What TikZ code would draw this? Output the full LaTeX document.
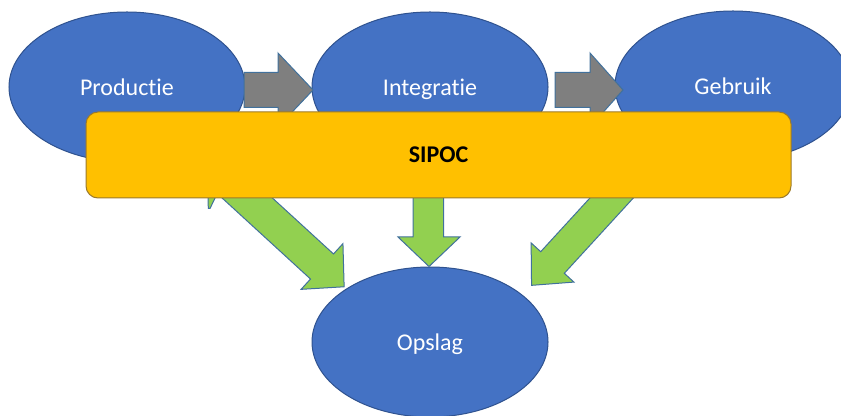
\documentclass[tikz,border=0pt]{standalone}
\usepackage{fontspec}
\setmainfont{Carlito}[Ligatures=NoCommon]
\usetikzlibrary{shapes.geometric}
\definecolor{blu}{HTML}{4472C4}
\definecolor{bluline}{HTML}{2F528F}
\definecolor{arrline}{HTML}{41719C}
\definecolor{gry}{HTML}{7F7F7F}
\definecolor{grn}{HTML}{92D050}
\definecolor{gold}{HTML}{FFC000}
\definecolor{goldline}{HTML}{9C7A2A}
\tikzset{
  blob/.style={ellipse, fill=blu, draw=bluline, line width=0.75pt, minimum width=177pt, minimum height=112.5pt, inner sep=0pt, text=white, text height=14.5pt, text depth=2pt, font=\fontsize{18}{21}\selectfont},
  grayarrow/.style={fill=gry, draw=arrline, line width=0.75pt, line join=miter},
  greenarrow/.style={fill=grn, draw=arrline, line width=0.75pt, line join=miter},
  sipocbox/.style={fill=gold, draw=goldline, line width=0.75pt, rounded corners=9pt, minimum width=528.75pt, minimum height=64.5pt, inner sep=0pt, font=\fontsize{18}{21}\selectfont\bfseries}
}
\begin{document}
\begin{tikzpicture}[x=0.75pt, y=-0.75pt]
\useasboundingbox (0,0) rectangle (841,416);
\clip (0,0) rectangle (841,416);
% ellipses
\node[blob] (prod) at (127,87) {Productie};
\node[blob] (integ) at (430,87) {Integratie};
\node[blob] (gebr) at (733,86) {Gebruik};
\node[blob] (opslag) at (430,342) {Opslag};
% gray block arrows
\draw[grayarrow] (244,72.5) -- (278,72.5) -- (278,53) -- (313,90) -- (278,127) -- (278,107.5) -- (244,107.5) -- cycle;
\draw[grayarrow] (555,72.5) -- (590,72.5) -- (590,53) -- (623,90) -- (590,127) -- (590,107.5) -- (555,107.5) -- cycle;
% green block arrows
\draw[greenarrow] (208,195) -- (216.5,195) -- (210,208.5) -- (208.3,208.5) -- cycle;
\begin{scope}[shift={(322,266.5)}, rotate=-42.5]
\draw[greenarrow] (-140,-17) -- (0,-17) -- (0,-31) -- (30,0) -- (0,31) -- (0,17) -- (-140,17) -- cycle;
\end{scope}
\begin{scope}[shift={(552.5,262.5)}, rotate=-132.5]
\draw[greenarrow] (-130,-16) -- (0,-16) -- (0,-29) -- (31,0) -- (0,29) -- (0,16) -- (-130,16) -- cycle;
\end{scope}
\draw[greenarrow] (413,185) -- (413,237) -- (398,237) -- (429,266.5) -- (460,237) -- (443.5,237) -- (443.5,185) -- cycle;
% SIPOC box
\node[sipocbox] (sipoc) at (438.5,155) {SIPOC};
\end{tikzpicture}
\end{document}
